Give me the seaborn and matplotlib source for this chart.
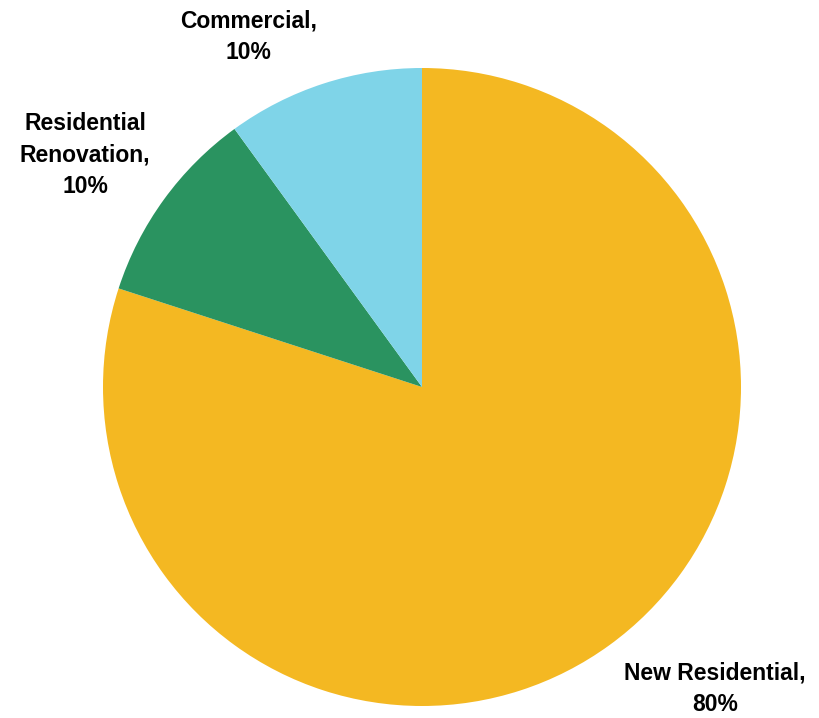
import matplotlib
matplotlib.use("Agg")
import matplotlib.pyplot as plt
import seaborn as sns
import numpy as np

categories = ["New Residential", "Residential Renovation", "Commercial"]
values = [80, 10, 10]
label_texts = ["New Residential,\n80%", "Residential\nRenovation,\n10%", "Commercial,\n10%"]
colors = ["#F4B822", "#2A9360", "#7FD4E8"]

sns.set_theme(style="white")
plt.rcParams['font.family'] = ['Liberation Sans', 'DejaVu Sans']

fig = plt.figure(figsize=(8.19, 7.18), dpi=100)
R_px = 319
cx, cy = 422, 387
W, H = 819, 718
ax = fig.add_axes([(cx - R_px) / W, 1 - (cy + R_px) / H, 2 * R_px / W, 2 * R_px / H])

wedges, _ = ax.pie(values, colors=colors, startangle=90, counterclock=False,
                   radius=1.0, wedgeprops=dict(linewidth=0))
ax.set_xlim(-1, 1)
ax.set_ylim(-1, 1)
ax.set_aspect("equal")
ax.axis("off")

label_pos = [(0.918, -0.947), (-1.056, 0.727), (-0.545, 1.097)]
for (x, y), t in zip(label_pos, label_texts):
    ax.text(x, y, t, ha="center", va="center", fontsize=16.5, fontweight="bold",
            color="black", linespacing=1.47, clip_on=False)

fig.savefig("out.png", dpi=100, facecolor="white")
